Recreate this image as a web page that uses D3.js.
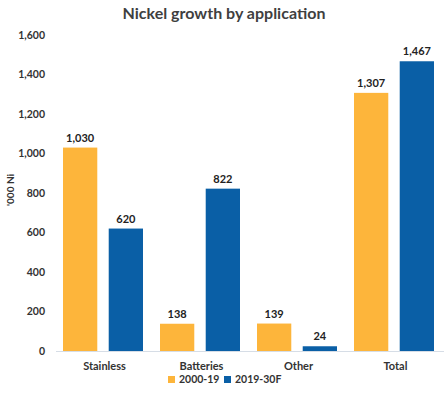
<!DOCTYPE html>
<html><head><meta charset="utf-8">
<script src="https://cdn.jsdelivr.net/npm/d3@7"></script>
<style>body{margin:0;background:#fff}svg{font-family:Lato,"Open Sans",sans-serif}</style>
</head><body><svg id="c" width="448" height="395"></svg>
<script>
const categories = ["Stainless","Batteries","Other","Total"];
const seriesNames = ["2000-19","2019-30F"];
const series1 = [1030,138,139,1307];
const series2 = [620,822,24,1467];
const yTicks = [0,200,400,600,800,1000,1200,1400,1600];
const colors = ["#FDB53B","#0A5FA6"];

const svg = d3.select("#c");
const x = d3.scaleBand().domain(categories).range([56,444]).paddingInner(0).paddingOuter(0);
const x1 = d3.scaleBand().domain(seriesNames).range([7,x.bandwidth()-10]).paddingInner(0.25);
const y = d3.scaleLinear().domain([0,1600]).range([351,35]);

svg.append("text").attr("x",224).attr("y",19).attr("text-anchor","middle")
  .attr("font-size",16).attr("font-weight","bold").attr("fill","#3f3f3f").text("Nickel growth by application");

const yAxis = svg.append("g").attr("transform","translate(48,0)")
  .call(d3.axisLeft(y).tickValues(yTicks).tickSize(0).tickFormat(d3.format(",")));
yAxis.select(".domain").remove();
yAxis.selectAll("text").attr("font-size",10.5).attr("font-weight","bold").attr("fill","#333").attr("font-family","Lato,sans-serif");

svg.append("text").attr("transform","translate(14,190) rotate(-90)").attr("text-anchor","middle")
  .attr("font-size",10).attr("font-weight","bold").attr("fill","#333").text("'000 Ni");

svg.append("line").attr("x1",56).attr("x2",444).attr("y1",y(0)+0.5).attr("y2",y(0)+0.5)
  .attr("stroke","#d6dde6").attr("stroke-width",1);

const data = categories.map((c,i)=>({c, vals:[series1[i],series2[i]]}));
const g = svg.append("g").selectAll("g").data(data).join("g")
  .attr("transform",d=>`translate(${x(d.c)},0)`);
g.selectAll("rect").data(d=>d.vals.map((v,j)=>({v,s:seriesNames[j],j}))).join("rect")
  .attr("x",d=>x1(d.s)).attr("width",x1.bandwidth())
  .attr("y",d=>y(d.v)).attr("height",d=>y(0)-y(d.v)).attr("fill",d=>colors[d.j]);
g.selectAll("text.v").data(d=>d.vals.map((v,j)=>({v,s:seriesNames[j],j}))).join("text")
  .attr("class","v").attr("x",d=>x1(d.s)+x1.bandwidth()/2).attr("y",d=>y(d.v)-6)
  .attr("text-anchor","middle").attr("font-size",11).attr("font-weight","bold").attr("fill","#222")
  .text(d=>d3.format(",")(d.v));

const xAxis = svg.append("g").attr("transform",`translate(0,${y(0)})`)
  .call(d3.axisBottom(x).tickSize(0).tickPadding(11));
xAxis.select(".domain").remove();
xAxis.selectAll("text").attr("font-size",11).attr("font-weight","bold").attr("fill","#333").attr("font-family","Lato,sans-serif");

const leg = svg.append("g").attr("transform","translate(168,383)");
const lx = [0,56];
seriesNames.forEach((s,i)=>{
  leg.append("rect").attr("x",lx[i]).attr("y",-7).attr("width",7).attr("height",7).attr("fill",colors[i]);
  leg.append("text").attr("x",lx[i]+11).attr("y",0).attr("font-size",10.5).attr("font-weight","bold").attr("fill","#333").text(s);
});
</script></body></html>
